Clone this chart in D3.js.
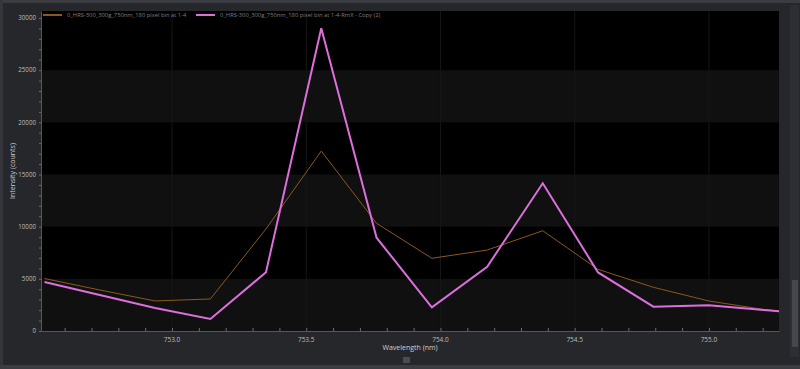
<!DOCTYPE html>
<html>
<head>
<meta charset="utf-8">
<script src="https://cdn.jsdelivr.net/npm/d3@7"></script>
<style>
  html, body { margin: 0; padding: 0; background: #26272b; overflow: hidden; }
  svg { display: block; font-family: "Open Sans", "DejaVu Sans", sans-serif; }
</style>
</head>
<body>
<figure id="chart" style="margin:0"></figure>
<script>
// spectra sampled every ~0.206 nm
const wavelengths = [752.525, 752.731, 752.937, 753.143, 753.350, 753.556, 753.762, 753.968,
                     754.174, 754.381, 754.587, 754.793, 754.999, 755.205, 755.412];
const rawCounts = [5030, 3930, 2880, 3070, 9780, 17250, 10320, 6970,
                   7760, 9610, 5910, 4190, 2880, 2060, 1530];
const copyCounts = [4700, 3450, 2200, 1150, 5630, 29010, 8940, 2270,
                    6160, 14160, 5610, 2330, 2460, 2010, 1580];
const seriesNames = ["0_HRS-300_300g_750nm_180 pixel bin at 1-4",
                     "0_HRS-300_300g_750nm_180 pixel bin at 1-4-RmX - Copy (2)"];
const seriesColors = ["#8a591d", "#dc6fdc"];
const xTickLabels = [753.0, 753.5, 754.0, 754.5, 755.0];
const yTickLabels = [0, 5000, 10000, 15000, 20000, 25000, 30000];

const W = 800, H = 369;
const plotLeft = 41, plotRight = 779, plotTop = 11, plotBottom = 331;

const svg = d3.select("#chart").append("svg")
  .attr("width", W).attr("height", H);

// window chrome
svg.append("rect").attr("x", 0).attr("y", 0).attr("width", W).attr("height", 3).attr("fill", "#3a3c42");
svg.append("rect").attr("x", 0).attr("y", 0).attr("width", 3).attr("height", H).attr("fill", "#34363c");
svg.append("rect").attr("x", 0).attr("y", 365).attr("width", W).attr("height", 4).attr("fill", "#3a3c42");
svg.append("rect").attr("x", 790).attr("y", 5).attr("width", 9).attr("height", 352).attr("fill", "#2c2e33");
svg.append("rect").attr("x", 792).attr("y", 280).attr("width", 6).attr("height", 67).attr("rx", 1).attr("fill", "#45474d");
svg.append("rect").attr("x", 403).attr("y", 357).attr("width", 7).attr("height", 6).attr("fill", "#4a4c52");

// scales
const x = d3.scaleLinear().domain([752.512, 755.261]).range([plotLeft, plotRight]);
const y = d3.scaleLinear().domain([0, 30670]).range([plotBottom, plotTop]);

// plot background and bands (0-5000, 10000-15000, 20000-25000 shaded)
svg.append("rect").attr("x", plotLeft).attr("y", plotTop)
  .attr("width", plotRight - plotLeft).attr("height", plotBottom - plotTop).attr("fill", "#000");
svg.selectAll("rect.band")
  .data(d3.pairs(yTickLabels).filter((p, i) => i % 2 === 0))
  .enter().append("rect")
  .attr("class", "band")
  .attr("x", plotLeft)
  .attr("width", plotRight - plotLeft)
  .attr("y", d => y(d[1]))
  .attr("height", d => y(d[0]) - y(d[1]))
  .attr("fill", "#101011");

// faint vertical grid
svg.selectAll("line.vgrid")
  .data(xTickLabels)
  .enter().append("line")
  .attr("x1", d => x(d)).attr("x2", d => x(d))
  .attr("y1", plotTop).attr("y2", plotBottom)
  .attr("stroke", "#161618").attr("stroke-width", 1);

// lines
svg.append("clipPath").attr("id", "clip")
  .append("rect").attr("x", plotLeft).attr("y", plotTop)
  .attr("width", plotRight - plotLeft).attr("height", plotBottom - plotTop);

const line = d3.line().x((d, i) => x(wavelengths[i])).y(d => y(d));
const lines = svg.append("g").attr("clip-path", "url(#clip)");
lines.append("path").datum(rawCounts)
  .attr("d", line).attr("fill", "none")
  .attr("stroke", seriesColors[0]).attr("stroke-width", 1);
lines.append("path").datum(copyCounts)
  .attr("d", line).attr("fill", "none")
  .attr("stroke", seriesColors[1]).attr("stroke-width", 2);

// axes
const xAxis = svg.append("g")
  .attr("transform", "translate(0," + plotBottom + ")")
  .call(d3.axisBottom(x).tickValues(d3.range(7526, 7553).map(v => v / 10))
    .tickSizeInner(-3).tickSizeOuter(0).tickFormat(""));
svg.selectAll("text.xlab")
  .data(xTickLabels)
  .enter().append("text")
  .attr("x", d => x(d)).attr("y", plotBottom + 11)
  .attr("text-anchor", "middle")
  .attr("font-size", 6.5).attr("fill", "#bdbdbd")
  .text(d => d.toFixed(1));

const yAxis = svg.append("g")
  .attr("transform", "translate(" + plotLeft + ",0)")
  .call(d3.axisLeft(y).tickValues(d3.range(0, 31000, 1000))
    .tickSizeInner(2).tickSizeOuter(0).tickFormat(""));
svg.selectAll("text.ylab")
  .data(yTickLabels)
  .enter().append("text")
  .attr("x", plotLeft - 5).attr("y", d => y(d) + 2.2)
  .attr("text-anchor", "end")
  .attr("font-size", 6.2).attr("fill", "#bdbdbd")
  .text(d => d);

[xAxis, yAxis].forEach(a => {
  a.select(".domain").attr("stroke", "#55575c");
  a.selectAll(".tick line").attr("stroke", "#6a6c70");
});

// axis titles
svg.append("text")
  .attr("x", 410).attr("y", plotBottom + 19)
  .attr("text-anchor", "middle")
  .attr("font-size", 7).attr("fill", "#d0d0d0")
  .text("Wavelength (nm)");
svg.append("text")
  .attr("transform", "translate(15," + ((plotTop + plotBottom) / 2) + ") rotate(-90)")
  .attr("text-anchor", "middle")
  .attr("font-size", 7).attr("fill", "#d0d0d0")
  .text("Intensity (counts)");

// legend
const legendX = [43, 196];
const legend = svg.selectAll("g.legend")
  .data(seriesNames)
  .enter().append("g")
  .attr("transform", (d, i) => "translate(" + legendX[i] + ",15)");
legend.append("line")
  .attr("x1", 0).attr("x2", 19).attr("y1", 0).attr("y2", 0)
  .attr("stroke", (d, i) => seriesColors[i]).attr("stroke-width", 2);
legend.append("text")
  .attr("x", 24).attr("y", 2)
  .attr("font-size", 5.8).attr("fill", "#7e7e7e")
  .text(d => d);
</script>
</body>
</html>
